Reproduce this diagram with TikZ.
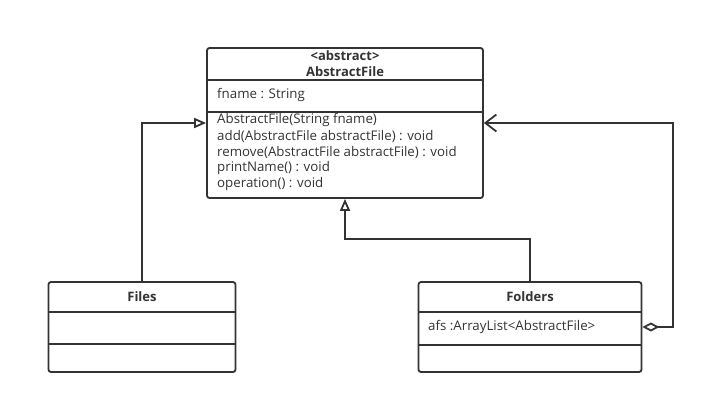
\documentclass[tikz,border=0pt]{standalone}
\usepackage{fontspec}
\setmainfont{Open Sans}
\usetikzlibrary{arrows.meta}
\usetikzlibrary{positioning}
\definecolor{umlgray}{HTML}{333333}
\tikzstyle{class_box}=[draw=umlgray, line width=1.8pt, rounded corners=2.5pt, inner sep=0pt]
\tikzstyle{class_line}=[draw=umlgray, line width=1.8pt]
\tikzstyle{member}=[anchor=west, inner sep=0pt, text=umlgray, font=\fontsize{13.3}{16}\selectfont]
\tikzstyle{title}=[inner sep=0pt, text=umlgray, font=\fontsize{13}{16}\selectfont\bfseries]
\tikzstyle{gen}=[class_line, -{Triangle[open, length=12pt, width=10pt]}]
\tikzstyle{aggr}=[class_line, {Diamond[open, length=17pt, width=9pt]}-{Straight Barb[length=11pt, width=17pt]}]

\begin{document}
\begin{tikzpicture}[x=1pt, y=-1pt]
          \useasboundingbox (0,0) rectangle (704,405);
          \node[class_box, minimum width=276pt, minimum height=150pt] (abs) at (345,123){};
          \node[class_box, minimum width=187pt, minimum height=90pt] (files) at (142,327){};
          \node[class_box, minimum width=223pt, minimum height=90pt] (folders) at (530,327){};
          \draw[class_line](abs.west |- 0,80) -- (abs.east |- 0,80);
          \draw[class_line](abs.west |- 0,112) -- (abs.east |- 0,112);
          \draw[class_line](files.west |- 0,312) -- (files.east |- 0,312);
          \draw[class_line](files.west |- 0,344) -- (files.east |- 0,344);
          \draw[class_line](folders.west |- 0,312) -- (folders.east |- 0,312);
          \draw[class_line](folders.west |- 0,345) -- (folders.east |- 0,345);
          \node[title] (abs_stereo) at (345,56){<abstract>};
          \node[title] (abs_name) at (345,72){AbstractFile};
          \node[member] (abs_attr) at (217,95){fname : String};
          \node[member] (abs_op0) at (217,120){AbstractFile(String fname)};
          \node[member] (abs_op1) at (217,136){add(AbstractFile abstractFile) : void};
          \node[member] (abs_op2) at (217,152){remove(AbstractFile abstractFile) : void};
          \node[member] (abs_op3) at (217,168){printName() : void};
          \node[member] (abs_op4) at (217,184){operation() : void};
          \node[title] (files_name) at (142,297){Files};
          \node[title] (folders_name) at (530,297){Folders};
          \node[member] (folders_attr) at (428,327){afs :ArrayList<AbstractFile>};
          \draw[gen](files.north) |- (abs.west);
          \draw[gen](folders.north) -- ++(0,-42) -| (abs.south);
          \draw[aggr](folders.east) -- ++(30.5,0) |- (abs.east);
        \end{tikzpicture}
\end{document}
